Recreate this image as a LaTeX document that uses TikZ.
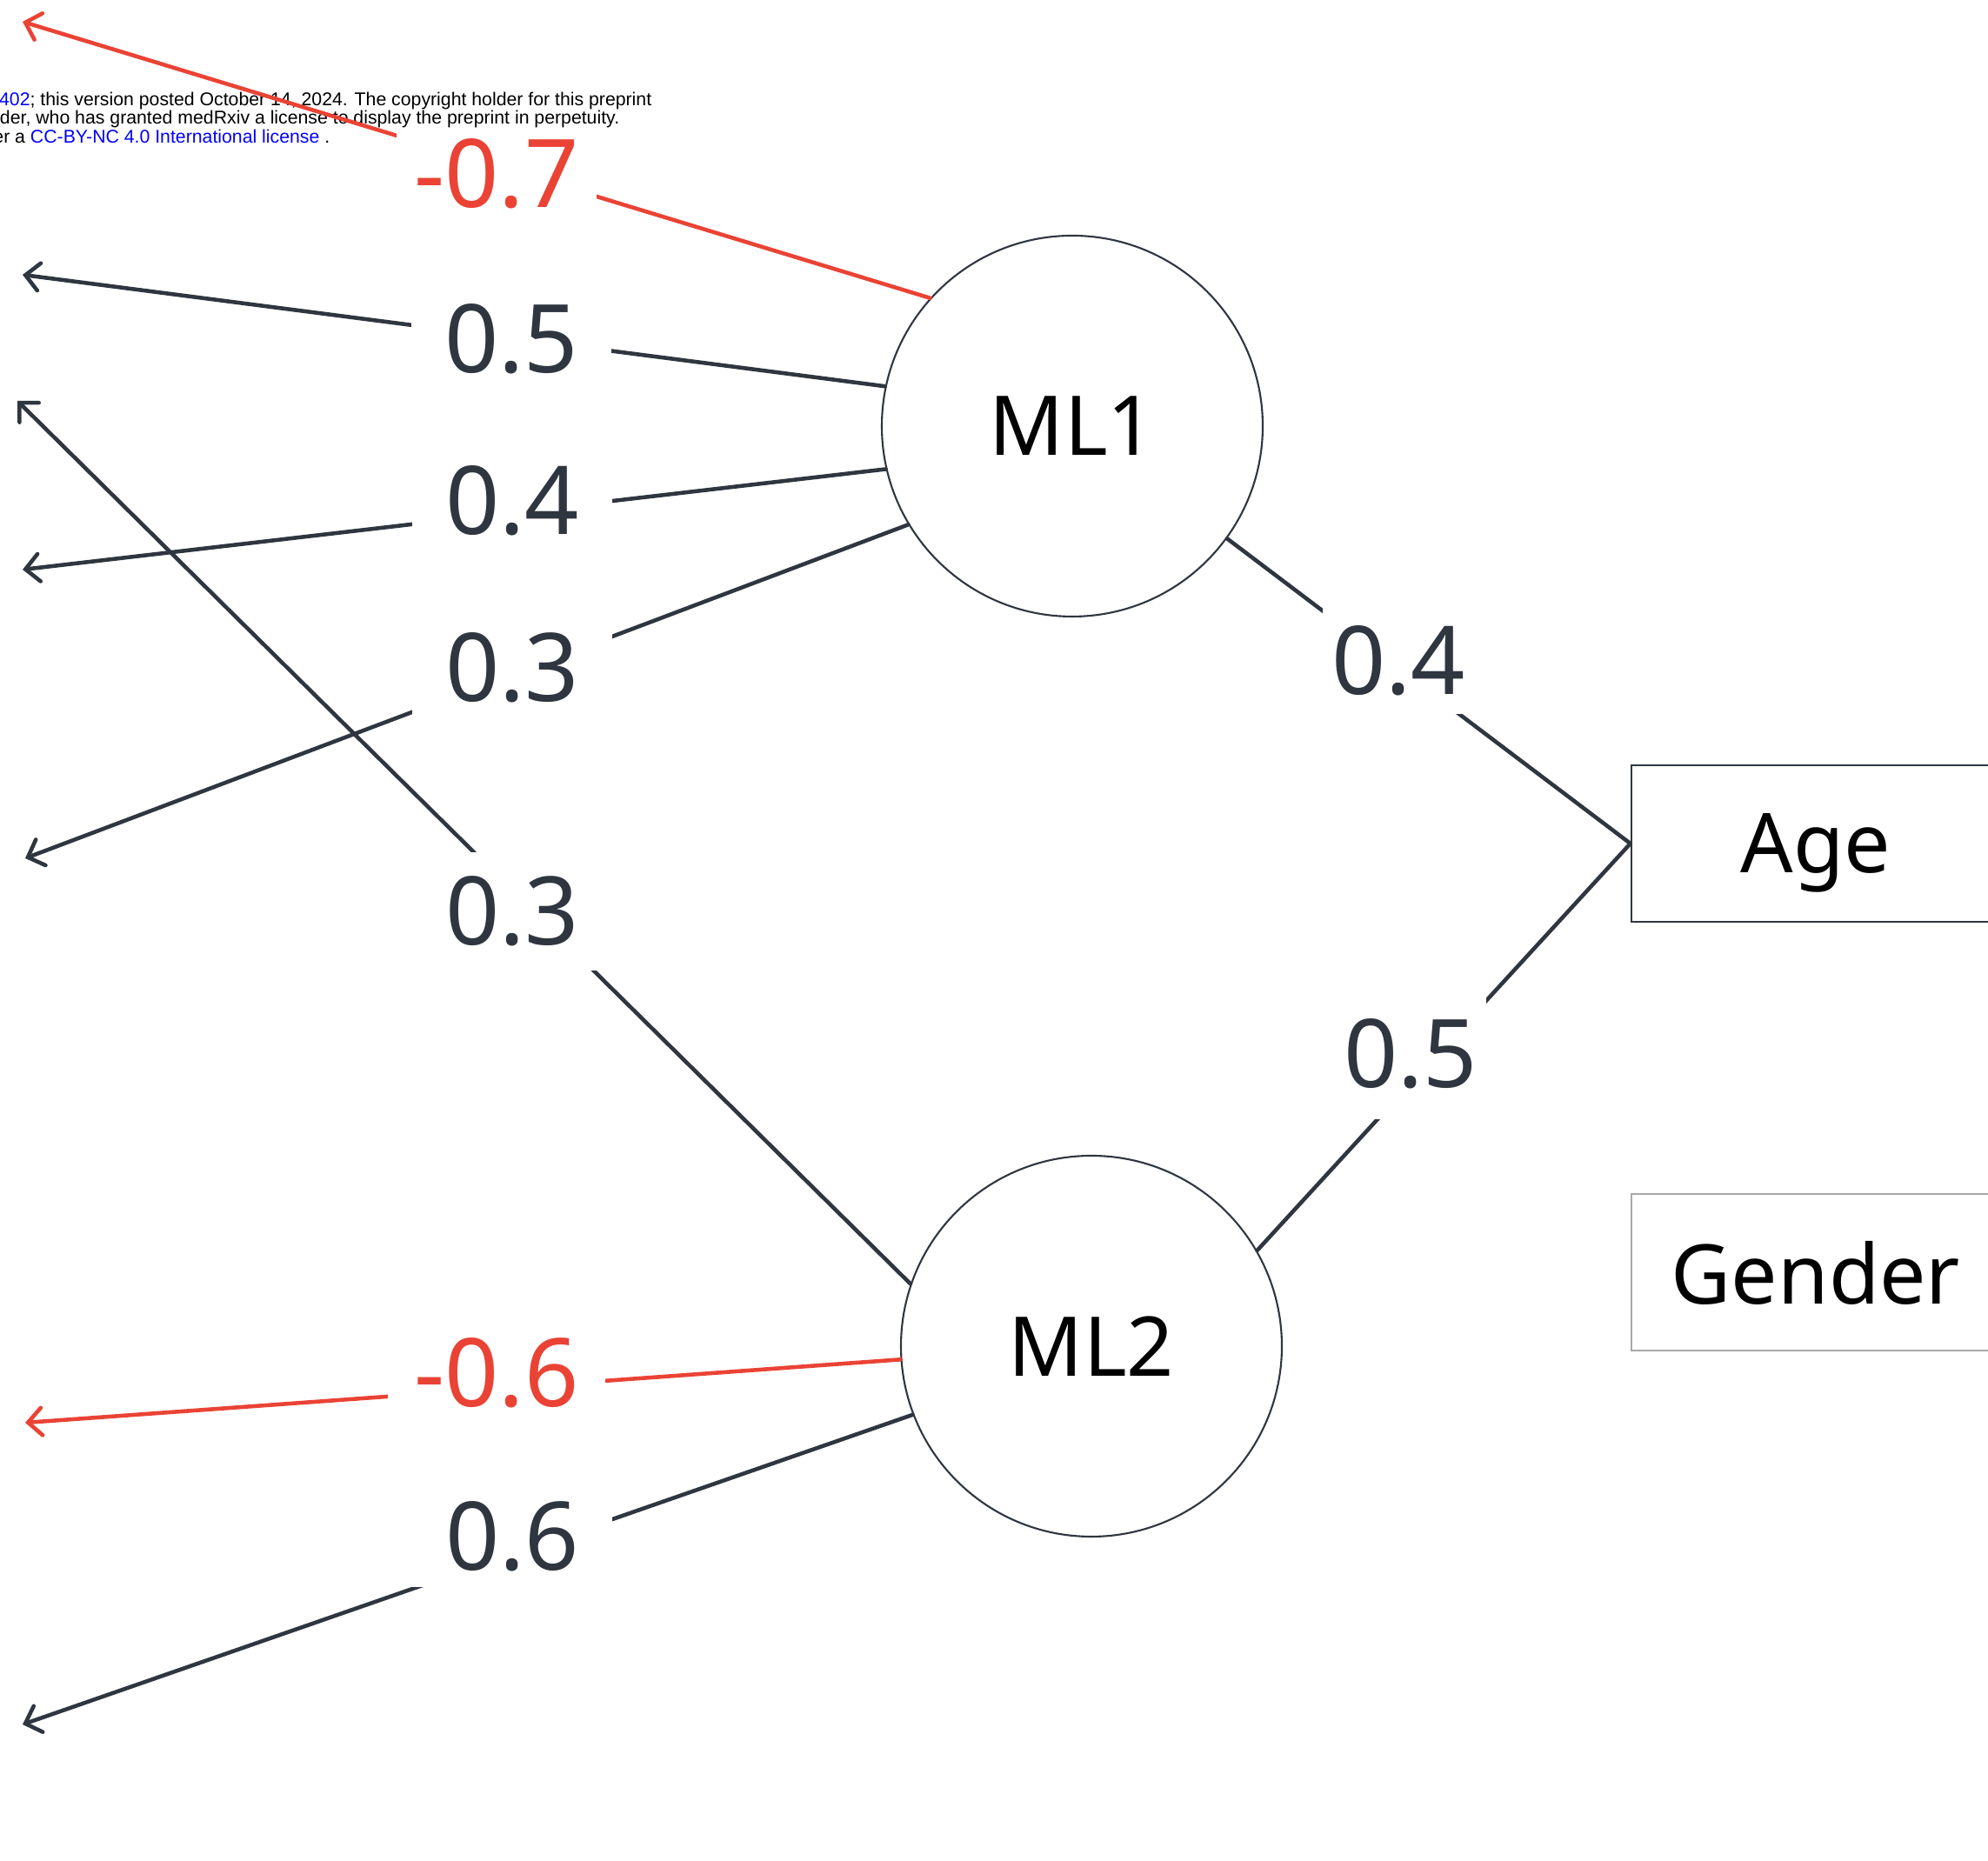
\documentclass[tikz,border=0pt]{standalone}
\usepackage{fontspec}
\setmainfont{Noto Sans}
\newfontfamily\hdrfont{Liberation Sans}
\usetikzlibrary{arrows.meta, positioning}

\definecolor{inkgray}{HTML}{2F3640}
\definecolor{negred}{HTML}{EA4335}
\definecolor{linkblue}{HTML}{0000FF}
\definecolor{boxgray}{HTML}{A8A8A8}

\begin{document}
\begin{tikzpicture}[
    factor/.style={circle, draw=inkgray, line width=0.6pt, minimum size=4.38cm, inner sep=0pt, font=\fontsize{27}{32}\selectfont},
    item/.style={rectangle, draw=inkgray, line width=0.7pt, minimum width=4.24cm, minimum height=1.8cm, text depth=0pt, font=\fontsize{27}{32}\selectfont},
    weight/.style={fill=white, text=inkgray, minimum width=2.3cm, inner xsep=0pt, inner ysep=5pt, font=\fontsize{31}{36}\selectfont},
    hdr/.style={inner sep=0pt, font=\hdrfont\fontsize{6.05}{6.1}\selectfont},
    load/.style={-{Straight Barb[length=4.5pt, width=9pt, line cap=round]}, draw=inkgray, line width=1.3pt, line cap=round},
    negload/.style={load, draw=negred},
    link/.style={draw=inkgray, line width=1.3pt, line cap=round}
]
\useasboundingbox (0,0) rectangle (22.86,21.40);
\clip (0,0) rectangle (22.86,21.40);

% preprint header (cut off at the left)
\node[hdr, anchor=base east] (h1) at (7.50, 20.18) {\textcolor{linkblue}{402}; this version posted October 14, 2024. The copyright holder for this preprint};
\node[hdr, anchor=base east] (h2) at (7.13, 19.97) {der, who has granted medRxiv a license to display the preprint in perpetuity.};
\node[hdr, anchor=base east] (h3) at (3.80, 19.75) {er a \textcolor{linkblue}{CC-BY-NC 4.0 International license} .};

% factors
\node[factor] (ml1) at (12.33, 16.50) {ML1};
\node[factor] (ml2) at (12.55, 5.92) {ML2};

% observed variables
\node[item] (age) at (20.88, 11.70) {Age};
\node[item, draw=boxgray, line width=0.5pt] (gender) at (20.88, 6.77) {Gender};

% loose ends of the loadings
\coordinate (t1) at (0.26, 21.15);
\coordinate (t2) at (0.26, 18.24);
\coordinate (t3) at (0.26, 14.85);
\coordinate (t4) at (0.29, 11.53);
\coordinate (t5) at (0.20, 16.79);
\coordinate (t6) at (0.29, 5.04);
\coordinate (t7) at (0.26, 1.57);

% loadings
\draw[negload] (ml1.138) -- (t1);
\draw[load] (ml1.168) -- (t2);
\draw[load] (ml1.193) -- (t3);
\draw[load] (ml1.211) -- (t4);
\draw[load] (ml2.161) -- (t5);
\draw[negload] (ml2.184) -- (t6);
\draw[load] (ml2.201) -- (t7);
\draw[link] (ml1.324) -- (age.west);
\draw[link] (ml2.30) -- (age.west);

% weights
\node[weight, text=negred, inner ysep=3pt] (w1) at (5.71, 19.40) {-0.7};
\node[weight] (w2) at (5.88, 17.50) {0.5};
\node[weight] (w3) at (5.89, 15.64) {0.4};
\node[weight] (w4) at (5.89, 13.72) {0.3};
\node[weight, inner ysep=8pt] (w5) at (5.89, 10.92) {0.3};
\node[weight, text=negred, minimum width=2.5cm] (w6) at (5.71, 5.61) {-0.6};
\node[weight] (w7) at (5.89, 3.73) {0.6};
\node[weight, minimum width=0pt, inner xsep=3pt, inner ysep=6pt] (w8) at (16.08, 13.80) {0.4};
\node[weight, minimum width=0pt, inner xsep=3pt, inner ysep=10pt] (w9) at (16.22, 9.28) {0.5};

\end{tikzpicture}
\end{document}
